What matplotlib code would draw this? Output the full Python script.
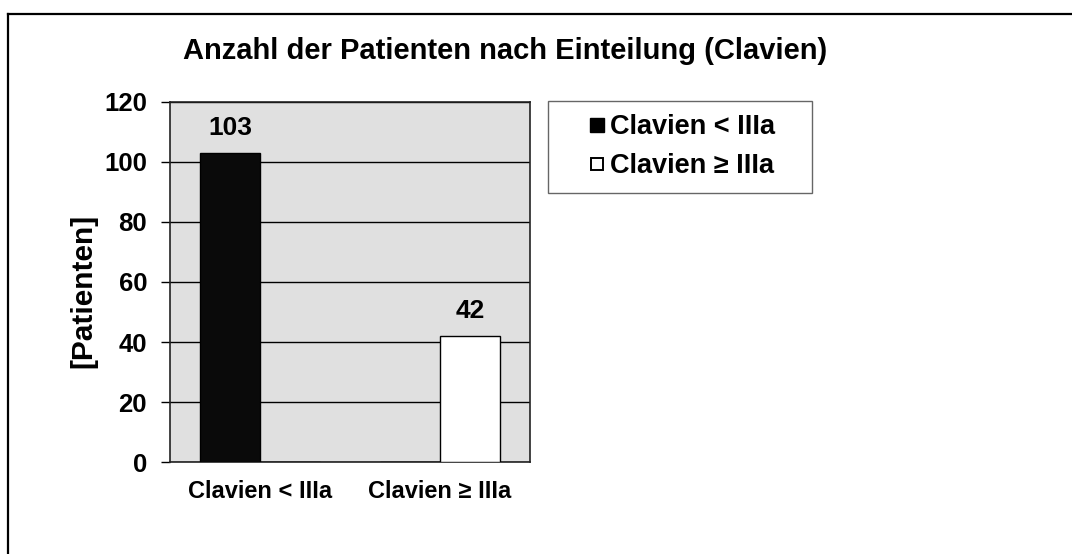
import matplotlib
matplotlib.use("Agg")
import matplotlib.pyplot as plt
from matplotlib.lines import Line2D
from matplotlib.patches import Rectangle
import numpy as np

plt.rcParams['font.family'] = ['Liberation Sans', 'DejaVu Sans']

categories = ["Clavien < IIIa", "Clavien \u2265 IIIa"]
series_names = ["Clavien < IIIa", "Clavien \u2265 IIIa"]
values_low = [103, 0]
values_high = [0, 42]
labels_low = ["103", ""]
labels_high = ["", "42"]
yticks = [0, 20, 40, 60, 80, 100, 120]

fig = plt.figure(figsize=(10.72, 5.54), dpi=100)
fig.patch.set_facecolor('white')

# outer frame (only top and left edges visible)
fx = 7.5 / 1072
fy = 1 - 13.5 / 554
fig.add_artist(Line2D([fx, fx], [-0.01, fy], transform=fig.transFigure, color='black', linewidth=1.6))
fig.add_artist(Line2D([fx, 1.01], [fy, fy], transform=fig.transFigure, color='black', linewidth=1.6))

ax = fig.add_axes([0.1586, 0.166, 0.3358, 0.650])
ax.set_facecolor('#E0E0E0')

x = np.arange(len(categories))
w = 1/3
ax.bar(x - w/2, values_low, width=w, color='#0A0A0A', edgecolor='black', linewidth=1, zorder=3)
ax.bar(x + w/2, values_high, width=w, color='white', edgecolor='black', linewidth=1, zorder=3)

for i, (v, t) in enumerate(zip(values_low, labels_low)):
    if t:
        ax.text(x[i] - w/2, v + 4.2, t, ha='center', va='bottom', fontsize=19, fontweight='bold')
for i, (v, t) in enumerate(zip(values_high, labels_high)):
    if t:
        ax.text(x[i] + w/2, v + 4.2, t, ha='center', va='bottom', fontsize=19, fontweight='bold')

ax.set_xlim(-0.5, 1.5)
ax.set_ylim(0, 120)
ax.set_yticks(yticks)
ax.set_yticklabels([str(t) for t in yticks], fontsize=18.5, fontweight='bold')
ax.set_xticks(x)
ax.set_xticklabels(categories, fontsize=17, fontweight='bold')
ax.tick_params(axis='x', length=0, pad=13)
ax.tick_params(axis='y', length=6.5, width=1, direction='out', pad=10)
ax.yaxis.grid(True, color='black', linewidth=1, zorder=1)
ax.set_axisbelow(True)
for s in ax.spines.values():
    s.set_color('#222222')
    s.set_linewidth(1.2)

ax.set_ylabel("[Patienten]", fontsize=21.5, fontweight='bold')
ax.yaxis.set_label_coords(-0.202, 0.475)

fig.text(0.4716, 0.908, "Anzahl der Patienten nach Einteilung (Clavien)", ha='center', va='center',
         fontsize=21, fontweight='bold')

# legend frame
fig.add_artist(Rectangle((548 / 1072, 1 - 193 / 554), 264 / 1072, 92 / 554, transform=fig.transFigure,
                         fill=False, edgecolor='#666666', linewidth=1))
handles = [Line2D([], [], marker='s', linestyle='none', markersize=10, markerfacecolor='black',
                  markeredgecolor='black'),
           Line2D([], [], marker='s', linestyle='none', markersize=8.5, markerfacecolor='white',
                  markeredgecolor='black', markeredgewidth=1.4)]
leg = fig.legend(handles, series_names, loc='upper left', bbox_to_anchor=(590 / 1072, 1 - 114 / 554),
                 prop={'size': 19.5, 'weight': 'bold'}, frameon=False,
                 handletextpad=0.22, labelspacing=0.49, borderpad=0, borderaxespad=0, handlelength=0.5)

fig.savefig("out.png", dpi=100, facecolor='white')
